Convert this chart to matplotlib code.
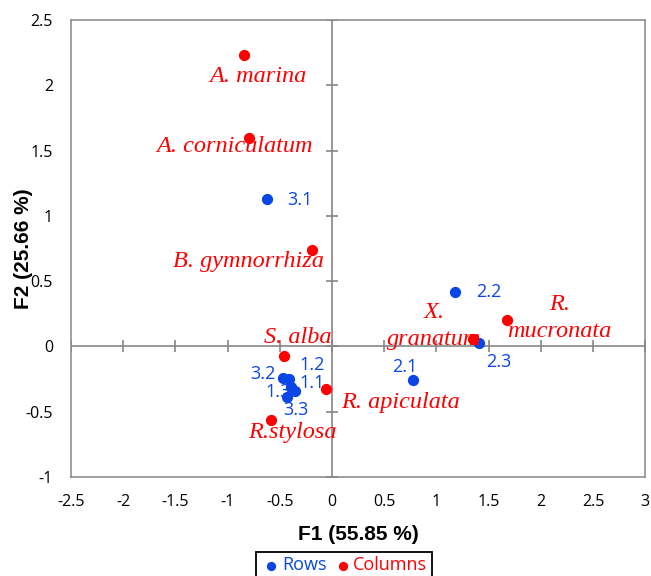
import matplotlib
matplotlib.use('Agg')
import matplotlib.pyplot as plt

# Row points (blue)
rowNames = ['1.1', '1.2', '1.3', '2.1', '2.2', '2.3', '3.1', '3.2', '3.3']
rowF1 = [-0.35, -0.41, -0.39, 0.78, 1.18, 1.41, -0.62, -0.47, -0.43]
rowF2 = [-0.34, -0.25, -0.31, -0.26, 0.42, 0.03, 1.13, -0.24, -0.39]

# Column points (red)
colNames = ['A. marina', 'A. corniculatum', 'B. gymnorrhiza', 'S. alba',
            'R. apiculata', 'R.stylosa', 'X.\ngranatum', 'R.\nmucronata']
colF1 = [-0.84, -0.79, -0.19, -0.46, -0.06, -0.58, 1.35, 1.68]
colF2 = [2.23, 1.60, 0.74, -0.07, -0.33, -0.56, 0.06, 0.20]

xTicks = [-2.5, -2, -1.5, -1, -0.5, 0, 0.5, 1, 1.5, 2, 2.5, 3]
yTicks = [-1, -0.5, 0, 0.5, 1, 1.5, 2, 2.5]

# label placement (x, y, ha)
rowLabelPos = {
    '1.1': (-0.31, -0.28, 'left'), '1.2': (-0.31, -0.14, 'left'),
    '1.3': (-0.64, -0.35, 'left'), '2.1': (0.58, -0.16, 'left'),
    '2.2': (1.38, 0.42, 'left'), '2.3': (1.48, -0.12, 'left'),
    '3.1': (-0.43, 1.12, 'left'), '3.2': (-0.78, -0.21, 'left'),
    '3.3': (-0.47, -0.49, 'left'),
}
colLabelPos = {
    'A. marina': (-1.17, 2.07, 'left'),
    'A. corniculatum': (-1.68, 1.53, 'left'),
    'B. gymnorrhiza': (-1.52, 0.65, 'left'),
    'S. alba': (-0.65, 0.065, 'left'),
    'R. apiculata': (0.09, -0.43, 'left'),
    'R.stylosa': (-0.80, -0.66, 'left'),
    'X.\ngranatum': (0.98, 0.155, 'center'),
    'R.\nmucronata': (2.18, 0.22, 'center'),
}

blue = '#0a46e6'
red = '#ff0000'
grey = '#868686'

fig = plt.figure(figsize=(6.51, 5.76), dpi=100)
ax = fig.add_axes([0.109, 0.172, 0.882, 0.793])

ax.set_xlim(-2.5, 3)
ax.set_ylim(-1, 2.5)
ax.set_xticks(xTicks)
ax.set_yticks(yTicks)
ax.set_xticklabels(['{:g}'.format(t) for t in xTicks])
ax.set_yticklabels(['{:g}'.format(t) for t in yTicks])
ax.tick_params(length=0, labelsize=11.5)
ax.tick_params(axis='x', pad=12)
ax.tick_params(axis='y', pad=13)
for lab in ax.get_xticklabels() + ax.get_yticklabels():
    lab.set_fontfamily('Open Sans')
for sp in ax.spines.values():
    sp.set_color(grey)
    sp.set_linewidth(1.1)

# zero axes with crossing ticks
ax.axhline(0, color=grey, lw=1.2, zorder=1)
ax.axvline(0, color=grey, lw=1.2, zorder=1)
ax.plot(xTicks, [0] * len(xTicks), ls='none', marker='|', ms=8, mew=1.2, color=grey, zorder=1)
ax.plot([0] * len(yTicks), yTicks, ls='none', marker='_', ms=8, mew=1.2, color=grey, zorder=1)

ax.scatter(rowF1, rowF2, s=50, color=blue, zorder=3, label='Rows')
ax.scatter(colF1, colF2, s=50, color=red, zorder=3, label='Columns')

for name in rowNames:
    x, y, ha = rowLabelPos[name]
    ax.text(x, y, name, color=blue, fontsize=13, family='Open Sans', ha=ha, va='center', zorder=4)
for name in colNames:
    x, y, ha = colLabelPos[name]
    ax.text(x, y, name, color=red, fontsize=17.5, family='Liberation Serif', style='italic',
            ha=ha, va='center', multialignment='center', linespacing=1.35, zorder=4)

ax.set_xlabel('F1 (55.85 %)', fontsize=15, fontweight='bold', family='Liberation Sans', labelpad=11)
ax.set_ylabel('F2 (25.66 %)', fontsize=15, fontweight='bold', family='Liberation Sans')
ax.yaxis.set_label_coords(-0.066, 0.5)

leg = fig.legend(loc='upper center', bbox_to_anchor=(0.528, 0.0575), ncol=2, fancybox=False,
                 edgecolor='black', framealpha=1, handletextpad=0.0, columnspacing=0.3,
                 handlelength=1.2, borderpad=0.25, markerscale=0.8,
                 prop={'family': 'Open Sans', 'size': 13})
leg.get_frame().set_linewidth(1.3)
for t, c in zip(leg.get_texts(), [blue, red]):
    t.set_color(c)

fig.savefig('out.png', dpi=100)
